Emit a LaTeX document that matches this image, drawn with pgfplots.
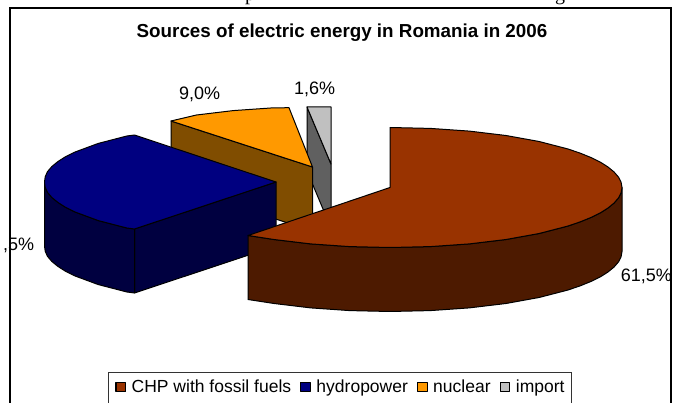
\documentclass[border=0pt]{standalone}
\usepackage{fontspec}
\setmainfont{Liberation Sans}
\newfontfamily\capfont{Liberation Serif}
\usepackage{pgfplots}
\pgfplotsset{compat=1.18}
\definecolor{chp}{HTML}{993300}
\definecolor{chpside}{HTML}{4D1A00}
\definecolor{hydro}{HTML}{000080}
\definecolor{hydroside}{HTML}{000040}
\definecolor{nuke}{HTML}{FF9900}
\definecolor{nukeside}{HTML}{804D00}
\definecolor{imp}{HTML}{C0C0C0}
\definecolor{impside}{HTML}{606060}
\begin{document}
\begin{tikzpicture}[x=1pt,y=1pt]
\path[use as bounding box] (0,0) rectangle (673,403);
\begin{axis}[
    at={(0,0)},
    anchor=south west,
    width=673pt,
    height=403pt,
    scale only axis,
    hide axis,
    clip=false,
    xmin=0, xmax=673,
    ymin=0, ymax=403,
    y dir=reverse,
    legend columns=-1,
    legend image code/.code={\draw[#1, line width=1.2pt] (0pt,-4.6pt) rectangle (9.6pt,4.6pt);},
    legend style={
        at={(axis cs:115.2,379)},
        anchor=north west,
        draw=none,
        fill=none,
        font=\fontsize{17.5}{19}\selectfont,
        inner xsep=0pt,
        inner ysep=0pt,
        nodes={inner xsep=0pt, inner ysep=1pt},
        /tikz/every even column/.append style={column sep=9pt},
        /tikz/every odd column/.append style={column sep=5.5pt},
    },
    every axis plot/.append style={line width=1pt, line join=round, draw=black},
]
\addlegendimage{fill=chp, draw=black}
\addlegendentry{CHP with fossil fuels}
\addlegendimage{fill=hydro, draw=black}
\addlegendentry{hydropower}
\addlegendimage{fill=nuke, draw=black}
\addlegendentry{nuclear}
\addlegendimage{fill=imp, draw=black}
\addlegendentry{import}

% import
\addplot[fill=impside, forget plot] coordinates {(307,107) (331,164) (331,228) (307,171)} -- cycle;
\addplot[fill=imp, forget plot] coordinates {(307,107) (331,107) (331,164)} -- cycle;

% nuclear
\addplot[fill=nukeside, forget plot] coordinates {(171,121) (312.5,167) (312.5,231) (171,185)} -- cycle;
\addplot[fill=nuke, forget plot] coordinates {(171,121) (196.5,115) (233.2,110.6) (272.2,107.9) (289,107.7) (312.5,167)} -- cycle;

% hydropower
\addplot[fill=hydroside, forget plot] coordinates {(134.5,229) (276,182) (276,246) (134.5,293)} -- cycle;
\addplot[fill=hydroside, forget plot] coordinates {
    (44.5,182) (45.2,187.2) (47.5,192.4) (51.9,197.5) (58,202.5) (65.7,207.4) (75.1,212)
    (98.3,220.6) (126.9,228) (134.5,229)
    (134.5,293) (126.9,292) (98.3,284.6) (75.1,276) (65.7,271.4) (58,266.5)
    (51.9,261.5) (47.5,256.4) (45.2,251.2) (44.5,246)} -- cycle;
\addplot[fill=hydro, forget plot] coordinates {
    (134.5,135) (126.9,136) (98.3,143.4) (75.1,152) (65.7,156.6) (58,161.5) (51.9,166.5)
    (47.5,171.6) (45.2,176.8) (44.5,182) (45.2,187.2) (47.5,192.4) (51.9,197.5) (58,202.5)
    (65.7,207.4) (75.1,212) (98.3,220.6) (126.9,228) (134.5,229) (276,182)} -- cycle;

% CHP
\addplot[fill=chpside, forget plot] coordinates {
    (248,235.5) (274,239.5) (310.7,243.9) (349.7,246.6) (390,247.5) (430.3,246.6) (469.3,243.9)
    (506,239.5) (539.1,233.5) (567.7,226.1) (580.1,221.9) (590.9,217.5) (600.3,212.9) (608,208)
    (614.1,203) (618.5,197.9) (621.1,192.7) (622,187.5)
    (622,251.5) (621.1,256.7) (618.5,261.9) (614.1,267) (608,272) (600.3,276.9) (590.9,281.5)
    (580.1,285.9) (567.7,290.1) (539.1,297.5) (506,303.5) (469.3,307.9) (430.3,310.6) (390,311.5)
    (349.7,310.6) (310.7,307.9) (274,303.5) (248,299.5)} -- cycle;
\addplot[fill=chp, forget plot] coordinates {
    (390,187.5) (390,127.5) (430.3,128.4) (469.3,131.1) (506,135.5) (539.1,141.5) (567.7,148.9)
    (580.1,153.1) (590.9,157.5) (600.3,162.1) (608,167) (614.1,172) (618.5,177.1) (621.1,182.3)
    (622,187.5) (621.1,192.7) (618.5,197.9) (614.1,203) (608,208) (600.3,212.9) (590.9,217.5)
    (580.1,221.9) (567.7,226.1) (539.1,233.5) (506,239.5) (469.3,243.9) (430.3,246.6) (390,247.5)
    (349.7,246.6) (310.7,243.9) (274,239.5) (248,235.5)} -- cycle;

\node[font=\bfseries\fontsize{18.8}{20}\selectfont, anchor=base, inner sep=0pt] at (axis cs:342,38) {Sources of electric energy in Romania in 2006};
\node[font=\fontsize{18}{20}\selectfont, anchor=base west, inner sep=0pt] at (axis cs:179,100) {9,0\%};
\node[font=\fontsize{18}{20}\selectfont, anchor=base west, inner sep=0pt] at (axis cs:294,95) {1,6\%};
\node[font=\fontsize{18}{20}\selectfont, anchor=base west, inner sep=0pt] at (axis cs:3,251) {,5\%};
\node[font=\fontsize{18}{20}\selectfont, anchor=base west, inner sep=0pt] at (axis cs:620.7,282) {61,5\%};

% cut-off line of the page above the chart
\node[font=\capfont\fontsize{20}{22}\selectfont, anchor=base, inner sep=0pt] at (axis cs:250,0.5) {p};
\node[font=\capfont\fontsize{20}{22}\selectfont, anchor=base, inner sep=0pt] at (axis cs:560,0.5) {g};

% legend box runs off the bottom edge
\draw[line width=0.8pt, black!80] (axis cs:108.7,420) -- (axis cs:108.7,372.7) -- (axis cs:571,372.7) -- (axis cs:571,420);
% chart frame
\draw[line width=1.3pt, black] (axis cs:10,420) -- (axis cs:10,8) -- (axis cs:671,8) -- (axis cs:671,420);
\end{axis}
\end{tikzpicture}
\end{document}
